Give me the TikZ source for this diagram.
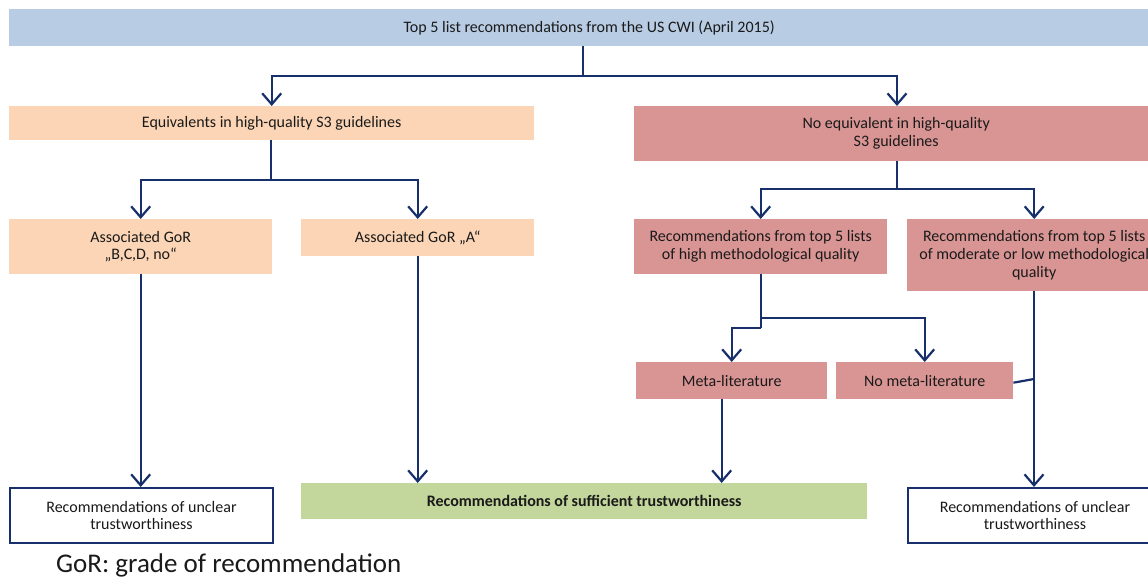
\documentclass[tikz,border=0pt]{standalone}
\usepackage{fontspec}
\setmainfont{Carlito}
\usetikzlibrary{arrows.meta}
\definecolor{navy}{HTML}{17306B}
\definecolor{topblue}{HTML}{B8CCE4}
\definecolor{peach}{HTML}{FBD5B5}
\definecolor{rose}{HTML}{D99594}
\definecolor{sage}{HTML}{C3D69B}
\definecolor{txt}{HTML}{1A1A1A}
\tikzset{
  bx/.style={rectangle, inner sep=0pt, align=center, anchor=north west, text=txt,
    font=\fontsize{16}{17.8}\selectfont},
  wbx/.style={bx, fill=white, draw=navy, line width=2pt},
  conn/.style={draw=navy, line width=2.2pt},
  arr/.style={conn, -{Straight Barb[length=11pt,width=19pt]}},
}
\begin{document}
\begin{tikzpicture}[x=1pt,y=-1pt]
\useasboundingbox (0,0) rectangle (1148,577);
\clip (0,0) rectangle (1148,577);
\fill[white] (0,0) rectangle (1148,577);

% boxes
\node[bx, fill=topblue, minimum width=1160, minimum height=37] (top) at (9,9) {Top 5 list recommendations from the US CWI (April 2015)};
\node[bx, fill=peach, minimum width=525, minimum height=34] (equiv) at (9,106) {Equivalents in high-quality S3 guidelines};
\node[bx, fill=rose, minimum width=524, minimum height=55] (noeq) at (634,106) {No equivalent in high-quality\\S3 guidelines};
\node[bx, fill=peach, minimum width=263, minimum height=55] (gorb) at (9,219) {Associated GoR\\„B,C,D, no“};
\node[bx, fill=peach, minimum width=233, minimum height=37] (gora) at (301,219) {Associated GoR „A“};
\node[bx, fill=rose, minimum width=253, minimum height=55] (high) at (634,219) {Recommendations from top 5 lists\\of high methodological quality};
\node[bx, fill=rose, minimum width=254, minimum height=72] (mod) at (907,219) {Recommendations from top 5 lists\\of moderate or low methodological\\quality};
\node[bx, fill=rose, minimum width=191, minimum height=37] (meta) at (636,362) {Meta-literature};
\node[bx, fill=rose, minimum width=177, minimum height=37] (nometa) at (836,362) {No meta-literature};
\node[bx, fill=sage, minimum width=566, minimum height=36, font=\fontsize{16}{17.8}\selectfont\bfseries] (green) at (301,483) {Recommendations of sufficient trustworthiness};
\node[wbx, minimum width=263, minimum height=55] (uncl) at (9,487) {Recommendations of unclear\\trustworthiness};
\node[wbx, minimum width=254, minimum height=55] (uncr) at (907,487) {Recommendations of unclear\\trustworthiness};
\node[anchor=base west, inner sep=0pt, text=txt, font=\fontsize{27}{32}\selectfont] (fn) at (56,572) {GoR: grade of recommendation};

% junctions
\coordinate (j1) at (583,76);
\coordinate (j2) at (271,180);
\coordinate (j3) at (897,189);
\coordinate (j4) at (761,318);
\coordinate (j5) at (761,328);
\coordinate (mj) at (1034,379);

% connectors
\draw[conn] (top.south -| j1) -- (j1);
\draw[arr] (j1) -| (equiv.north);
\draw[arr] (j1) -| (noeq.north -| j3);
\draw[conn] (equiv.south -| j2) -- (j2);
\draw[arr] (j2) -| (gorb.north);
\draw[arr] (j2) -| (gora.north);
\draw[conn] (noeq.south -| j3) -- (j3);
\draw[arr] (j3) -| (high.north);
\draw[arr] (j3) -| (mod.north);
\draw[conn] (high.south -| j4) -- (j4) -- (j5);
\draw[arr] (j5) -| (meta.north);
\draw[arr] (j4) -| (nometa.north);
\draw[arr] (gorb.south) -- (gorb.south |- uncl.north);
\draw[arr] (gora.south) -- (gora.south |- green.north);
\draw[arr] ([xshift=-10pt]meta.south) -- ([xshift=-10pt]meta.south |- green.north);
\draw[arr] (mod.south -| mj) -- (uncr.north -| mj);
\draw[conn] ([yshift=-2pt]nometa.east) -- (mj);
\end{tikzpicture}
\end{document}
